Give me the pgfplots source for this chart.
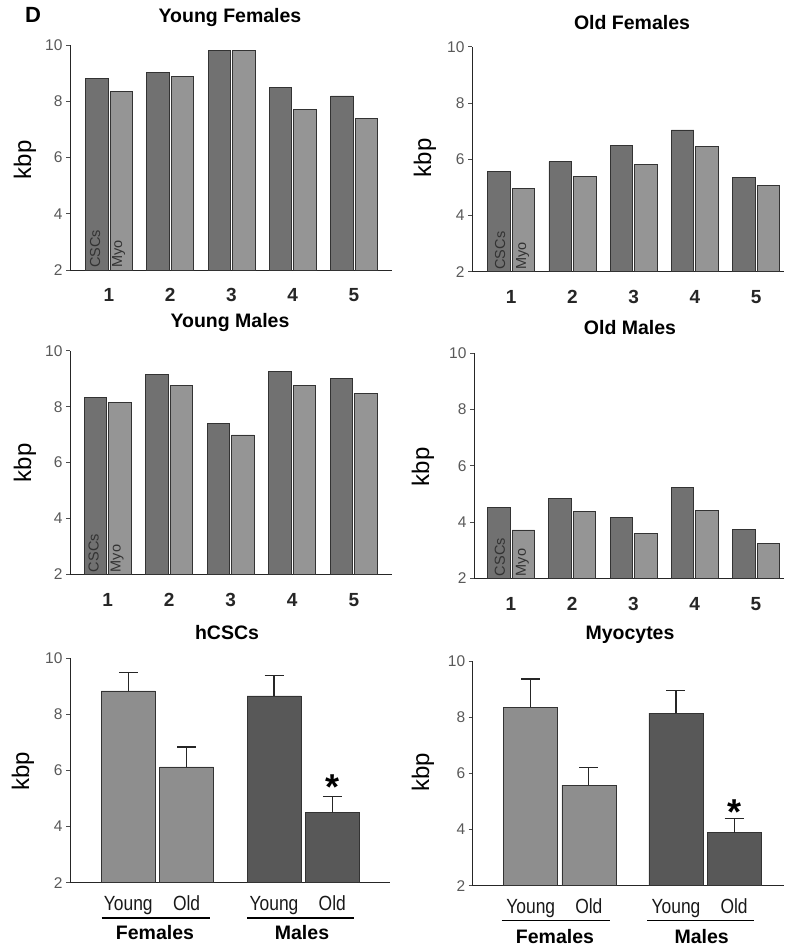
\documentclass[border=0pt]{standalone}
\usepackage{pgfplots}
\pgfplotsset{compat=1.18}
\usepackage{graphicx}
\usepackage{fontspec}
\setmainfont{Liberation Sans}
\definecolor{csc}{HTML}{717171}
\definecolor{myo}{HTML}{959595}
\definecolor{fem}{HTML}{8E8E8E}
\definecolor{mal}{HTML}{585858}
\pgfplotsset{
  panel/.style={scale only axis, axis lines*=left, ymin=2, ymax=10, ytick={2,4,6,8,10},
    tick align=outside, major tick length=4pt,
    xtick style={draw=none}, ytick style={line width=0.8pt, black!70},
    axis line style={line width=0.9pt, black!85},
    /pgf/number format/assume math mode=true,
    yticklabel style={font=\fontsize{15.5}{15.5}\selectfont, text=black!65},
    clip=false, anchor=south west},
  toppanel/.style={panel, ybar=2pt, bar width=22.5pt, xtick={1,2,3,4,5},
    xticklabel style={font=\fontsize{19}{19}\selectfont\bfseries, text=black!85, anchor=base, yshift=-28pt}},
  botpanel/.style={panel, ybar, bar width=54pt, xtick={1,2,3.5,4.5},
    xticklabels={\scalebox{0.85}[1]{Young},\scalebox{0.85}[1]{Old},\scalebox{0.85}[1]{Young},\scalebox{0.85}[1]{Old}},
    xticklabel style={font=\fontsize{20.5}{20.5}\selectfont, text=black!90, anchor=base, yshift=-24pt},
    error bars/y dir=plus, error bars/y explicit,
    error bars/error bar style={line width=1.1pt, black!85},
    error bars/error mark options={rotate=90, line width=1.1pt, mark size=9.5pt, black!85}},
  cscbar/.style={fill=csc, draw=black!80, line width=0.7pt},
  myobar/.style={fill=myo, draw=black!80, line width=0.7pt},
}
\newcommand{\ttl}[1]{\fontsize{19.5}{19.5}\selectfont\bfseries #1}
\newcommand{\kbp}{\fontsize{24}{24}\selectfont kbp}
\newcommand{\tg}{\fontsize{14.5}{14.5}\selectfont}
\begin{document}
\begin{tikzpicture}
\path[use as bounding box] (0pt,0pt) rectangle (784pt,947pt);
% ---------- Young Females
\begin{axis}[toppanel, at={(70pt,677pt)}, width=322pt, height=225pt, xmin=0.363, xmax=5.62]
\addplot[cscbar] coordinates {(1,8.82) (2,9.03) (3,9.82) (4,8.50) (5,8.19)};
\addplot[myobar] coordinates {(1,8.34) (2,8.87) (3,9.80) (4,7.71) (5,7.39)};
\node[rotate=90, anchor=west, inner sep=2pt, font=\tg, text=black!80] at ([xshift=-14pt]axis cs:1,2) {CSCs};
\node[rotate=90, anchor=west, inner sep=2pt, font=\tg, text=black!80] at ([xshift=9.5pt]axis cs:1,2) {Myo};
\end{axis}
% ---------- Old Females
\begin{axis}[toppanel, at={(472pt,675.3pt)}, width=312pt, height=225pt, xmin=0.36, xmax=5.457]
\addplot[cscbar] coordinates {(1,5.58) (2,5.91) (3,6.50) (4,7.04) (5,5.34)};
\addplot[myobar] coordinates {(1,4.95) (2,5.38) (3,5.80) (4,6.44) (5,5.07)};
\node[rotate=90, anchor=west, inner sep=2pt, font=\tg, text=black!80] at ([xshift=-11pt]axis cs:1,2) {CSCs};
\node[rotate=90, anchor=west, inner sep=2pt, font=\tg, text=black!80] at ([xshift=11.5pt]axis cs:1,2) {Myo};
\end{axis}
% ---------- Young Males
\begin{axis}[toppanel, at={(70pt,372.7pt)}, width=322pt, height=223.5pt, xmin=0.39, xmax=5.62]
\addplot[cscbar] coordinates {(1,8.33) (2,9.14) (3,7.41) (4,9.26) (5,9.02)};
\addplot[myobar] coordinates {(1,8.15) (2,8.75) (3,6.99) (4,8.76) (5,8.48)};
\node[rotate=90, anchor=west, inner sep=2pt, font=\tg, text=black!80] at ([xshift=-14pt]axis cs:1,2) {CSCs};
\node[rotate=90, anchor=west, inner sep=2pt, font=\tg, text=black!80] at ([xshift=9.5pt]axis cs:1,2) {Myo};
\end{axis}
% ---------- Old Males
\begin{axis}[toppanel, at={(474pt,368.7pt)}, width=310pt, height=225pt, xmin=0.396, xmax=5.457]
\addplot[cscbar] coordinates {(1,4.52) (2,4.84) (3,4.16) (4,5.24) (5,3.75)};
\addplot[myobar] coordinates {(1,3.72) (2,4.39) (3,3.60) (4,4.40) (5,3.24)};
\node[rotate=90, anchor=west, inner sep=2pt, font=\tg, text=black!80] at ([xshift=-11pt]axis cs:1,2) {CSCs};
\node[rotate=90, anchor=west, inner sep=2pt, font=\tg, text=black!80] at ([xshift=11.5pt]axis cs:1,2) {Myo};
\end{axis}
% ---------- hCSCs
\begin{axis}[botpanel, at={(70pt,64.3pt)}, width=320pt, height=224.3pt, xmin=0, xmax=5.49]
\addplot[fill=fem, draw=black!80, line width=0.7pt, bar shift=0pt] coordinates {(1,8.84) +- (0,0.65) (2,6.13) +- (0,0.71)};
\addplot[fill=mal, draw=black!80, line width=0.7pt, bar shift=0pt] coordinates {(3.5,8.66) +- (0,0.74) (4.5,4.52) +- (0,0.55)};
\node[anchor=base, inner sep=0pt, font=\fontsize{36}{36}\selectfont\bfseries] at ([yshift=-3pt]axis cs:4.5,5.07) {*};
\end{axis}
% ---------- Myocytes
\begin{axis}[botpanel, at={(472.7pt,61.3pt)}, width=311.3pt, height=224.7pt, xmin=0, xmax=5.36]
\addplot[fill=fem, draw=black!80, line width=0.7pt, bar shift=0pt] coordinates {(1,8.35) +- (0,1.01) (2,5.58) +- (0,0.62)};
\addplot[fill=mal, draw=black!80, line width=0.7pt, bar shift=0pt] coordinates {(3.5,8.14) +- (0,0.80) (4.5,3.89) +- (0,0.51)};
\node[anchor=base, inner sep=0pt, font=\fontsize{36}{36}\selectfont\bfseries] at ([yshift=-6pt]axis cs:4.5,4.40) {*};
\end{axis}
% ---------- text
\node[font=\fontsize{22}{22}\selectfont\bfseries] at (33pt,932pt) {D};
\node at (230pt,929pt) {\ttl{Young Females}};
\node at (632pt,924pt) {\ttl{Old Females}};
\node at (230pt,624pt) {\ttl{Young Males}};
\node at (630pt,619pt) {\ttl{Old Males}};
\node at (227pt,314pt) {\ttl{hCSCs}};
\node at (630pt,312pt) {\ttl{Myocytes}};
\node[rotate=90] at (25pt,787pt) {\kbp};
\node[rotate=90] at (425pt,789pt) {\kbp};
\node[rotate=90] at (25pt,484pt) {\kbp};
\node[rotate=90] at (423pt,480pt) {\kbp};
\node[rotate=90] at (23pt,176pt) {\kbp};
\node[rotate=90] at (423pt,175pt) {\kbp};
\draw[line width=1.4pt] (101.7pt,29pt) -- (210pt,29pt);
\draw[line width=1.4pt] (247pt,29pt) -- (354pt,29pt);
\draw[line width=1.4pt] (501.7pt,26.3pt) -- (610pt,26.3pt);
\draw[line width=1.4pt] (647.3pt,26.3pt) -- (754pt,26.3pt);
\node at (155pt,14pt) {\ttl{Females}};
\node at (302pt,14pt) {\ttl{Males}};
\node at (555pt,10.5pt) {\ttl{Females}};
\node at (701.7pt,10.5pt) {\ttl{Males}};
\end{tikzpicture}
\end{document}
